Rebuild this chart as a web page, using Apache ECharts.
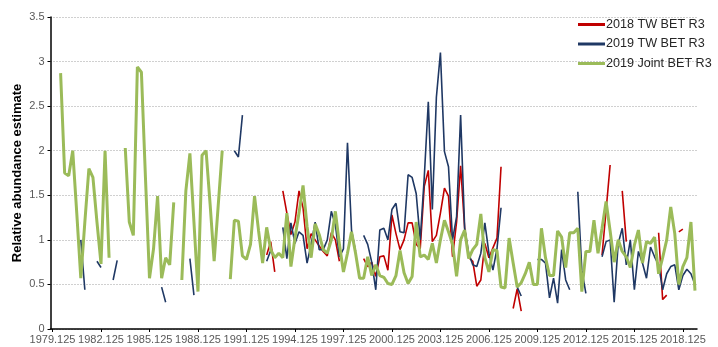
<!DOCTYPE html>
<html>
<head>
<meta charset="utf-8">
<script src="https://cdn.jsdelivr.net/npm/echarts@6/dist/echarts.min.js"></script>
<style>
  html, body { margin: 0; padding: 0; background: #fff; }
  #chart { width: 718px; height: 347px; }
</style>
</head>
<body>
<div id="chart"></div>
<script>
// quarterly categories, 1979.125 ... 2018.875
const years = []
for (let y = 1979; y <= 2018; y++) years.push(y)
const quarters = ['.125', '.375', '.625', '.875']
const categories = []
years.forEach((y) => quarters.forEach((q) => categories.push(y + q)))

const yTicks = [0, 0.5, 1, 1.5, 2, 2.5, 3, 3.5]

// 2018 TW BET R3
const tw2018 = [
  null, null, null, null, null, null, null, null, null, null, // 1979
  null, null, null, null, null, null, null, null, null, null,
  null, null, null, null, null, null, null, null, null, null,
  null, null, null, null, null, null, null, null, null, null,
  null, null, null, null, null, null, null, null, null, null,
  null, null, null, 0.83, 0.98, 0.64, null, 1.55, 1.3, 1.06, // 1991.625
  1.2, 1.55, 1.36, 0.9, 1.07, 1.0, 0.93, 0.87, 0.82, 1.08, // 1994.125
  1.0, 0.76, null, null, null, null, null, 0.79, 0.7, 0.75, // 1996.625
  0.59, 0.81, 0.82, 0.66, 1.28, 1.07, 0.89, 1.0, 1.19, 1.19, // 1999.125
  0.95, 0.9, 1.6, 1.78, 0.98, 1.05, 1.3, 1.58, 1.49, 0.81, // 2001.625
  1.2, 1.83, 1.13, 0.8, 0.76, 0.48, 0.55, 0.96, 0.8, 0.91, // 2004.125
  1.02, 1.82, null, null, 0.23, 0.45, 0.2, null, null, null, // 2006.625
  null, null, null, null, null, null, null, null, null, null, // 2009.125
  null, null, null, null, null, null, 0.83, 1.33, 1.84, null, // 2011.625
  null, 1.55, 0.98, null, null, null, null, null, null, null, // 2014.125
  1.08, 0.33, 0.38, null, null, 1.09, 1.12, null, null, null  // 2016.625
]

// 2019 TW BET R3
const tw2019 = [
  null, null, null, null, null, null, null, 1.0, 0.44, null, // 1979
  null, 0.76, 0.69, null, null, 0.55, 0.77, null, null, null,
  null, null, null, null, null, null, null, 0.47, 0.3, null,
  null, null, null, null, 0.79, 0.38, null, null, null, null,
  null, null, null, null, null, 2.0, 1.93, 2.4, null, null,
  null, null, null, 0.76, 0.88, null, null, 1.14, 0.79, 1.19, // 1991.625
  0.96, 1.09, 1.05, 0.74, 0.95, 1.2, 0.89, 0.89, 1.0, 1.32, // 1994.125
  1.17, 0.81, 0.9, 2.09, 1.11, 0.87, null, 1.05, 0.95, 0.75, // 1996.625
  0.44, 1.11, 1.13, 1.0, 1.34, 1.41, 1.09, 1.08, 1.73, 1.7, // 1999.125
  1.52, 1.0, 1.7, 2.55, 1.34, 2.6, 3.1, 1.99, 1.82, 1.0, // 2001.625
  1.26, 2.4, 1.13, 0.85, 0.72, 0.7, 0.85, 1.19, 0.85, 0.66, // 2004.125
  0.9, 1.36, null, null, null, 0.47, 0.37, null, null, null, // 2006.625
  0.78, 0.78, 0.74, 0.35, 0.57, 0.29, 0.89, 0.55, 0.44, null, // 2009.125
  1.54, 0.66, 0.4, null, null, null, 0.81, 0.98, 1.0, 0.3, // 2011.625
  0.96, 1.13, 0.72, 1.0, 0.44, 0.87, 0.74, 0.57, 0.92, 0.81, // 2014.125
  0.72, 0.44, 0.62, 0.7, 0.72, 0.44, 0.6, 0.67, 0.62, 0.5  // 2016.625
]

// 2019 Joint BET R3
const joint2019 = [
  null, null, 2.87, 1.75, 1.72, 2.0, 1.3, 0.57, 1.2, 1.8, // 1979
  1.7, 1.2, 0.73, 2.0, 0.8, null, null, null, 2.03, 1.2,
  1.05, 2.94, 2.88, 1.7, 0.57, 0.9, 1.49, 0.57, 0.8, 0.72,
  1.42, null, 0.55, 1.55, 1.97, 1.2, 0.42, 1.95, 2.0, 1.4,
  0.76, 1.38, 2.0, null, 0.56, 1.22, 1.21, 0.82, 0.78, 0.95,
  1.49, 1.1, 0.74, 1.14, 0.89, 0.8, 0.85, 0.8, 1.3, 0.7, // 1991.625
  1.02, 1.3, 1.61, 1.15, 0.8, 1.18, 1.06, 0.89, 0.85, 1.0, // 1994.125
  1.32, 0.95, 0.64, 0.85, 1.09, 0.85, 0.57, 0.57, 0.81, 0.6, // 1996.625
  0.72, 0.6, 0.58, 0.51, 0.5, 0.6, 0.88, 0.63, 0.51, 0.59, // 1999.125
  1.2, 0.81, 0.83, 0.78, 0.96, 0.74, 1.0, 1.22, 1.09, 0.95, // 2001.625
  0.59, 1.0, 1.11, 0.79, 0.89, 0.95, 1.29, 0.8, 0.64, 0.89, // 2004.125
  0.88, 0.47, 0.46, 1.02, 0.74, 0.47, 0.52, 0.62, 0.75, 0.5, // 2006.625
  0.5, 1.13, 0.8, 0.6, 0.6, 1.1, 1.03, 0.69, 1.08, 1.08, // 2009.125
  1.13, 0.42, 0.87, 0.87, 1.22, 0.85, 1.13, 1.43, 1.1, 0.75, // 2011.625
  1.0, 0.87, 0.81, 0.69, 0.94, 1.11, 0.74, 0.98, 0.96, 1.03, // 2014.125
  0.62, 0.8, 1.0, 1.37, 1.07, 0.5, 0.7, 0.8, 1.2, 0.43  // 2016.625
]

const lines = [
  { name: '2018 TW BET R3', data: tw2018, color: '#c00000', width: 1.6 },
  { name: '2019 TW BET R3', data: tw2019, color: '#1f3864', width: 1.6 },
  { name: '2019 Joint BET R3', data: joint2019, color: '#9bbb59', width: 3 },
]

const labelFont = 'Liberation Sans, Arial, sans-serif'

const chart = echarts.init(document.getElementById('chart'), null, { renderer: 'canvas' })

chart.setOption({
  animation: false,
  grid: {
    left: 50.5,
    right: 21,
    top: 17,
    bottom: 18,
    outerBoundsMode: 'none',
  },
  legend: {
    orient: 'vertical',
    left: 573,
    top: 13,
    itemWidth: 27,
    itemHeight: 3,
    itemGap: 6.5,
    icon: 'rect',
    textStyle: {
      fontFamily: labelFont,
      fontSize: 12.6,
      color: '#262626',
      padding: [0, 0, 0, -4],
    },
    data: lines.map(({ name }) => name),
  },
  xAxis: {
    type: 'category',
    data: categories,
    boundaryGap: true,
    axisLine: {
      show: true,
      lineStyle: { color: '#000', width: 1.5 },
    },
    axisTick: {
      show: true,
      interval: 11,
      alignWithLabel: true,
      length: 3,
      lineStyle: { color: '#000' },
    },
    axisLabel: {
      interval: 11,
      margin: 5,
      color: '#595959',
      fontFamily: labelFont,
      fontSize: 11,
    },
    splitLine: { show: false },
  },
  yAxis: {
    type: 'value',
    min: yTicks[0],
    max: yTicks[yTicks.length - 1],
    interval: 0.5,
    name: 'Relative abundance estimate',
    nameLocation: 'middle',
    nameGap: 27,
    nameMoveOverlap: false,
    nameTextStyle: {
      fontFamily: labelFont,
      fontSize: 13,
      fontWeight: 'bold',
      color: '#000',
    },
    axisLine: {
      show: true,
      lineStyle: { color: '#000', width: 1.5 },
    },
    axisTick: {
      show: true,
      length: 3,
      lineStyle: { color: '#000' },
    },
    axisLabel: {
      margin: 6,
      color: '#595959',
      fontFamily: labelFont,
      fontSize: 11,
    },
    splitLine: {
      show: true,
      lineStyle: { color: '#a0a0a0', type: [1, 2], width: 1 },
    },
  },
  series: lines.map(({ name, data, color, width }) => ({
    name,
    type: 'line',
    data,
    symbol: 'none',
    showSymbol: false,
    connectNulls: false,
    color,
    lineStyle: { color, width },
  })),
})
</script>
</body>
</html>
